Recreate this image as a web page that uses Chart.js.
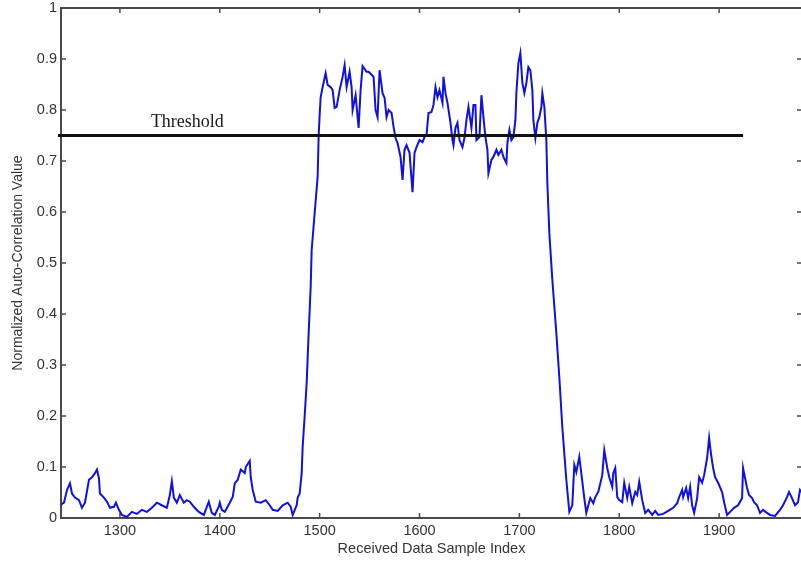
<!DOCTYPE html>
<html>
<head>
<meta charset="utf-8">
<script src="https://cdn.jsdelivr.net/npm/chart.js@4"></script>
<style>
  html, body { margin: 0; padding: 0; background: #fff; overflow: hidden; }
  #wrap { width: 804px; height: 562px; }
</style>
</head>
<body>
<div id="wrap"><canvas id="corrChart" width="804" height="562"></canvas></div>
<script>
// received sample index
const sampleIndex = [
  1240, 1244, 1247, 1250, 1252, 1255, 1259, 1262, 1265, 1269,
  1272, 1275, 1277, 1279, 1280, 1284, 1287, 1290, 1294, 1296,
  1299, 1302, 1307, 1312, 1317, 1322, 1327, 1332, 1337, 1342,
  1347, 1350, 1352, 1354, 1357, 1360, 1364, 1367, 1370, 1374,
  1379, 1384, 1389, 1392, 1395, 1399, 1400, 1402, 1405, 1410,
  1413, 1415, 1418, 1421, 1425, 1426, 1430, 1431, 1433, 1436,
  1441, 1446, 1450, 1453, 1458, 1463, 1468, 1471, 1473, 1477,
  1478, 1480, 1482, 1483, 1485, 1487, 1489, 1491, 1492, 1495,
  1498, 1499, 1500, 1501, 1503, 1506, 1508, 1511, 1513, 1515,
  1517, 1520, 1523, 1525, 1527, 1530, 1532, 1533, 1536, 1539,
  1541, 1543, 1547, 1549, 1552, 1554, 1556, 1558, 1560, 1563,
  1565, 1567, 1569, 1572, 1574, 1576, 1578, 1581, 1583, 1585,
  1587, 1590, 1593, 1595, 1597, 1600, 1603, 1605, 1607, 1609,
  1612, 1614, 1616, 1618, 1620, 1623, 1624, 1626, 1628, 1631,
  1633, 1634, 1636, 1638, 1640, 1643, 1645, 1647, 1649, 1652,
  1654, 1656, 1657, 1660, 1662, 1664, 1666, 1668, 1669, 1672,
  1674, 1677, 1679, 1682, 1684, 1687, 1688, 1690, 1692, 1694,
  1696, 1697, 1699, 1701, 1703, 1705, 1707, 1709, 1711, 1713,
  1714, 1716, 1718, 1720, 1722, 1723, 1725, 1727, 1728, 1730,
  1733, 1737, 1740, 1743, 1747, 1750, 1753, 1755, 1757, 1760,
  1762, 1765, 1767, 1771, 1774, 1776, 1779, 1783, 1785, 1788,
  1790, 1793, 1794, 1796, 1798, 1800, 1803, 1805, 1808, 1810,
  1813, 1816, 1818, 1820, 1823, 1826, 1829, 1833, 1836, 1839,
  1844, 1849, 1854, 1858, 1860, 1863, 1864, 1867, 1869, 1871,
  1873, 1875, 1878, 1880, 1883, 1885, 1888, 1890, 1892, 1894,
  1896, 1899, 1903, 1905, 1908, 1911, 1915, 1919, 1923, 1924,
  1926, 1928, 1930, 1933, 1935, 1938, 1941, 1944, 1948, 1951,
  1956, 1961, 1964, 1968, 1970, 1973, 1976, 1979, 1981, 1983
];

// normalized auto-correlation value at each index
const corrValue = [
  0.025, 0.03, 0.055, 0.068, 0.048, 0.04, 0.035, 0.02, 0.03, 0.075,
  0.08, 0.088, 0.095, 0.078, 0.048, 0.04, 0.032, 0.02, 0.022, 0.03,
  0.016, 0.006, 0.002, 0.012, 0.008, 0.016, 0.012, 0.02, 0.03, 0.025,
  0.02, 0.045, 0.072, 0.04, 0.03, 0.045, 0.03, 0.035, 0.032, 0.022,
  0.012, 0.006, 0.032, 0.01, 0.006, 0.022, 0.03, 0.016, 0.012, 0.03,
  0.042, 0.068, 0.075, 0.095, 0.088, 0.1, 0.112, 0.08, 0.055, 0.032,
  0.03, 0.035, 0.025, 0.016, 0.014, 0.025, 0.03, 0.022, 0.006, 0.025,
  0.04, 0.048, 0.088, 0.14, 0.2, 0.265, 0.363, 0.453, 0.525, 0.598,
  0.669, 0.75, 0.79, 0.825, 0.845, 0.872, 0.849, 0.845, 0.839, 0.804,
  0.806, 0.839, 0.865, 0.888, 0.845, 0.875, 0.845, 0.8, 0.829, 0.765,
  0.839, 0.886, 0.875, 0.875, 0.869, 0.865, 0.8, 0.786, 0.878, 0.833,
  0.824, 0.786, 0.8, 0.794, 0.767, 0.745, 0.735, 0.708, 0.663, 0.722,
  0.731, 0.716, 0.639, 0.716, 0.727, 0.741, 0.737, 0.747, 0.751, 0.794,
  0.796, 0.81, 0.845, 0.825, 0.839, 0.814, 0.865, 0.833, 0.814, 0.775,
  0.741, 0.731, 0.765, 0.775, 0.741, 0.727, 0.745, 0.78, 0.806, 0.765,
  0.81, 0.81, 0.741, 0.747, 0.829, 0.786, 0.747, 0.722, 0.676, 0.702,
  0.708, 0.722, 0.712, 0.722, 0.708, 0.696, 0.735, 0.761, 0.741, 0.747,
  0.78, 0.833, 0.892, 0.912, 0.853, 0.833, 0.853, 0.884, 0.878, 0.839,
  0.78, 0.745, 0.775, 0.786, 0.806, 0.833, 0.806, 0.741, 0.657, 0.559,
  0.467, 0.363, 0.276, 0.178, 0.075, 0.012, 0.025, 0.104, 0.09, 0.12,
  0.088, 0.039, 0.01, 0.039, 0.029, 0.041, 0.051, 0.084, 0.133, 0.098,
  0.08, 0.061, 0.088, 0.098, 0.041, 0.035, 0.031, 0.069, 0.039, 0.061,
  0.029, 0.051, 0.045, 0.071, 0.035, 0.01, 0.016, 0.006, 0.014, 0.006,
  0.008, 0.014, 0.02, 0.029, 0.041, 0.055, 0.041, 0.059, 0.039, 0.061,
  0.025, 0.01, 0.039, 0.08, 0.069, 0.084, 0.118, 0.157, 0.124, 0.098,
  0.08, 0.069, 0.051, 0.031, 0.006, 0.012, 0.02, 0.025, 0.039, 0.098,
  0.078, 0.059, 0.045, 0.039, 0.031, 0.025, 0.01, 0.016, 0.01, 0.006,
  0.004, 0.016, 0.025, 0.041, 0.051, 0.039, 0.025, 0.031, 0.055, 0.05
];

const thresholdValue = 0.75;
const thresholdFrom = 1238;
const thresholdTo = 1924;
const thresholdLabelAt = 1331;

const xTickValues = [1300, 1400, 1500, 1600, 1700, 1800, 1900];
const yTickValues = [0, 0.1, 0.2, 0.3, 0.4, 0.5, 0.6, 0.7, 0.8, 0.9, 1];
const xRange = [1241, 1983];

const axisColor = '#4a4a4a';
const textColor = '#333';
const sansFont = '"Liberation Sans", Arial, sans-serif';

// MATLAB style box with ticks pointing inwards on all four sides
const axisBox = {
    id: 'axisBox',
    beforeDatasetsDraw(chart) {
        const { ctx, chartArea: a, scales } = chart;
        ctx.save();
        ctx.strokeStyle = axisColor;
        ctx.lineWidth = 1.5;
        ctx.beginPath();
        scales.x.ticks.forEach(t => {
            const px = scales.x.getPixelForValue(t.value);
            ctx.moveTo(px, a.bottom); ctx.lineTo(px, a.bottom - 5);
            ctx.moveTo(px, a.top); ctx.lineTo(px, a.top + 5);
        });
        scales.y.ticks.forEach(t => {
            const py = scales.y.getPixelForValue(t.value);
            ctx.moveTo(a.left, py); ctx.lineTo(a.left + 5, py);
            ctx.moveTo(a.right, py); ctx.lineTo(a.right - 5, py);
        });
        ctx.stroke();
        ctx.lineWidth = 2;
        ctx.strokeRect(a.left, a.top, a.right - a.left, a.bottom - a.top);
        ctx.restore();
    }
};

const thresholdLabel = {
    id: 'thresholdLabel',
    afterDatasetsDraw(chart) {
        const { ctx, scales } = chart;
        const x = scales.x.getPixelForValue(thresholdLabelAt);
        const y = scales.y.getPixelForValue(thresholdValue) - 9;
        ctx.save();
        ctx.font = '18px "Liberation Serif", "Times New Roman", serif';
        ctx.fillStyle = '#1a1a1a';
        ctx.textAlign = 'left';
        ctx.textBaseline = 'alphabetic';
        ctx.fillText('Threshold', x, y);
        ctx.restore();
    }
};

const ctx = document.getElementById('corrChart').getContext('2d');
const corrChart = new Chart(ctx, {
    type: 'line',
    data: {
        datasets: [{
            label: 'Threshold',
            data: [{ x: thresholdFrom, y: thresholdValue }, { x: thresholdTo, y: thresholdValue }],
            borderColor: '#111',
            borderWidth: 3,
            pointRadius: 0,
            clip: false,
            order: 0
        }, {
            label: 'Auto-correlation',
            data: sampleIndex.map((s, i) => ({ x: s, y: corrValue[i] })),
            borderColor: '#1010e0',
            borderWidth: 2,
            pointRadius: 0,
            tension: 0,
            order: 1
        }]
    },
    options: {
        responsive: false,
        animation: false,
        devicePixelRatio: 1,
        layout: { padding: { top: 8, right: 2, left: 0, bottom: 0 } },
        plugins: {
            legend: { display: false },
            tooltip: { enabled: false }
        },
        scales: {
            x: {
                type: 'linear',
                min: xRange[0],
                max: xRange[1],
                grid: { display: false, drawTicks: false },
                border: { display: false },
                afterBuildTicks: scale => { scale.ticks = xTickValues.map(v => ({ value: v })); },
                afterFit: scale => {
                    scale.height = 44;
                    scale.paddingLeft = 0;
                    scale.paddingRight = 0;
                },
                ticks: {
                    padding: 4,
                    color: textColor,
                    maxRotation: 0,
                    font: { family: sansFont, size: 14.5 },
                    callback: v => String(v)
                },
                title: {
                    display: true,
                    text: 'Received Data Sample Index',
                    color: textColor,
                    padding: { top: 0, bottom: 4 },
                    font: { family: sansFont, size: 14.5 }
                }
            },
            y: {
                min: 0,
                max: 1,
                grid: { display: false, drawTicks: false },
                border: { display: false },
                afterBuildTicks: scale => { scale.ticks = yTickValues.map(v => ({ value: v })); },
                afterFit: scale => {
                    scale.width = 61;
                    scale.paddingTop = 0;
                    scale.paddingBottom = 0;
                },
                ticks: {
                    padding: 4,
                    color: textColor,
                    font: { family: sansFont, size: 14.5 },
                    callback: v => String(v)
                },
                title: {
                    display: true,
                    text: 'Normalized Auto-Correlation Value',
                    color: textColor,
                    padding: { top: 10, bottom: 0 },
                    font: { family: sansFont, size: 14 }
                }
            }
        }
    },
    plugins: [axisBox, thresholdLabel]
});
</script>
</body>
</html>
